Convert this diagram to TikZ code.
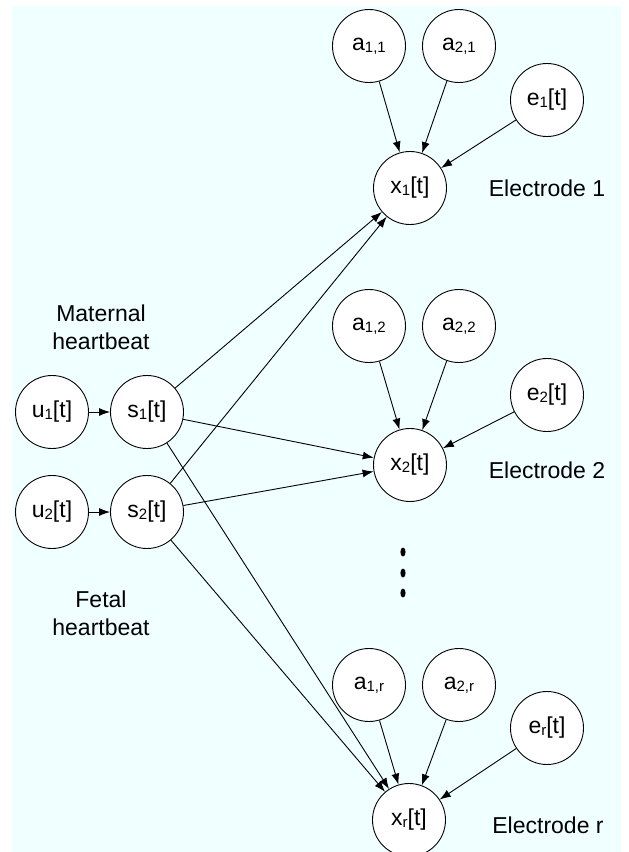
\documentclass[tikz,border=0pt]{standalone}
\usepackage{fontspec}
\setmainfont{Liberation Sans}
\usetikzlibrary{arrows.meta}
\definecolor{lightazure}{RGB}{240,255,255}
\newcommand{\idx}[1]{\raisebox{-0.15ex}{\fontsize{15}{15}\selectfont #1}}

\begin{document}
\begin{tikzpicture}[x=1pt, y=-1pt, line width=0.9pt,
    every node/.style={font=\fontsize{23}{28}\selectfont},
    var/.style={draw, circle, fill=white, minimum size=73pt, inner sep=0pt},
    >={Latex[length=11pt,width=8pt]}]
    \useasboundingbox (0,0) rectangle (629,852);
    \fill[lightazure] (12,6) rectangle (621,852);
    % sources
    \node[var] (u1) at (52,412) {u\idx{1}[t]};
    \node[var] (s1) at (147,412) {s\idx{1}[t]};
    \node[var] (u2) at (52,512) {u\idx{2}[t]};
    \node[var] (s2) at (147,512) {s\idx{2}[t]};
    \node[align=center] (mat) at (101,327) {Maternal\\heartbeat};
    \node[align=center] (fet) at (101,613) {Fetal\\heartbeat};
    % electrode 1
    \node[var] (a11) at (369,46) {a\idx{1,1}};
    \node[var] (a21) at (459,46) {a\idx{2,1}};
    \node[var] (e1) at (547,100) {e\idx{1}[t]};
    \node[var] (x1) at (410,188) {x\idx{1}[t]};
    \node (el1) at (547,188) {Electrode 1};
    % electrode 2
    \node[var] (a12) at (369,326) {a\idx{1,2}};
    \node[var] (a22) at (459,326) {a\idx{2,2}};
    \node[var] (e2) at (547,395) {e\idx{2}[t]};
    \node[var] (x2) at (410,465) {x\idx{2}[t]};
    \node (el2) at (547,470) {Electrode 2};
    % electrode r
    \node[var] (a1r) at (369,685) {a\idx{1,r}};
    \node[var] (a2r) at (459,685) {a\idx{2,r}};
    \node[var] (er) at (547,728) {e\idx{r}[t]};
    \node[var] (xr) at (409,820) {x\idx{r}[t]};
    \node (elr) at (548,825) {Electrode r};
    % dots
    \fill (403,552) ellipse (2.6 and 4.5);
    \fill (403,573) ellipse (2.6 and 4.5);
    \fill (403,593) ellipse (2.6 and 4.5);
    % edges
    \draw[->] (u1) -- (s1);
    \draw[->] (u2) -- (s2);
    \draw[->] (a11) -- (x1);
    \draw[->] (a21) -- (x1);
    \draw[->] (e1) -- (x1);
    \draw[->] (a12) -- (x2);
    \draw[->] (a22) -- (x2);
    \draw[->] (e2) -- (x2);
    \draw[->] (a1r) -- (xr);
    \draw[->] (a2r) -- (xr);
    \draw[->] (er) -- (xr);
    \draw[->] (s1) -- (x1);
    \draw[->] (s1) -- (x2);
    \draw[->] (s1) -- (xr);
    \draw[->] (s2) -- (x1);
    \draw[->] (s2) -- (x2);
    \draw[->] (s2) -- (xr);
\end{tikzpicture}
\end{document}
